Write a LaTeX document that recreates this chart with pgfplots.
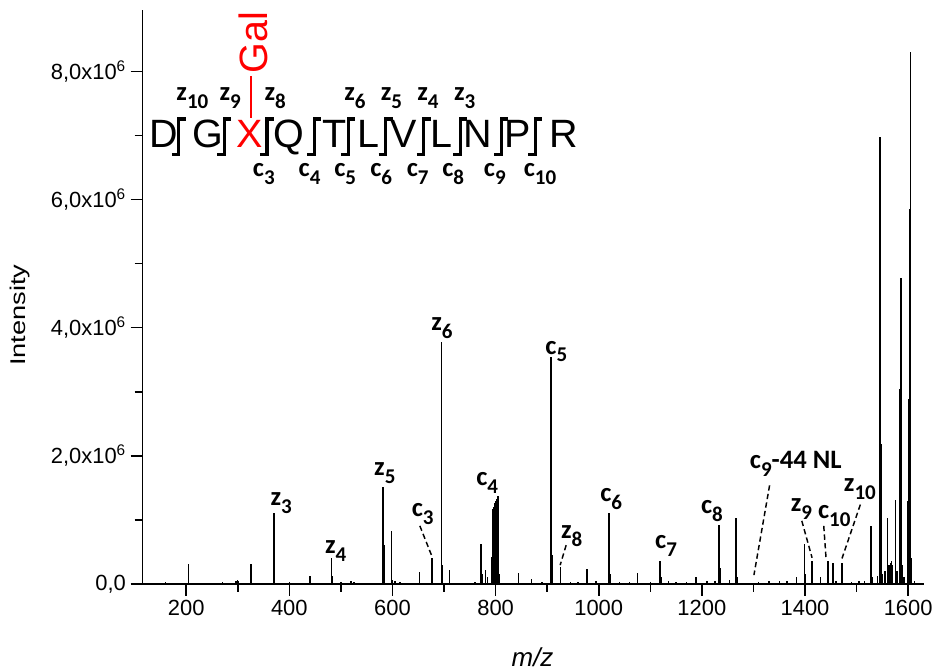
\documentclass[border=0pt]{standalone}
\usepackage{pgfplots}
\pgfplotsset{compat=1.18}
\usepackage{fontspec}
\setmainfont{Liberation Sans}
\newfontfamily\lab{Carlito}
\newcommand{\ion}[2]{#1\raisebox{-6pt}{\fontsize{15.8}{16}\selectfont #2}}
\pgfplotstableread{
mz int
140 0.02
160 0.03
178 0.02
204.5 0.31
230 0.02
255 0.02
270 0.03
297 0.05
299 0.06
301 0.04
325.7 0.31
350 0.02
370 1.10
371.5 0.12
400 0.03
420 0.02
440 0.12
470 0.02
482 0.40
484 0.12
500 0.03
520 0.04
525 0.03
560 0.02
582 1.51
583.5 0.60
597.7 0.83
600 0.06
605 0.04
615 0.03
630 0.02
652 0.19
677 0.40
695.2 3.78
697 0.30
711 0.22
735 0.02
760 0.03
772 0.63
774 0.15
780 0.22
784 0.10
792 0.42
795 1.17
796.5 1.20
798 1.27
799.5 1.27
801 1.30
803 1.33
804.6 1.37
806 0.55
808 0.15
844.7 0.17
870 0.07
890 0.03
907.2 3.54
909 0.45
925.5 0.27
945 0.03
960 0.03
977.6 0.23
995 0.04
1020 1.10
1022 0.15
1040 0.03
1060 0.03
1074.7 0.17
1100 0.03
1119 0.36
1121 0.10
1135 0.04
1150 0.03
1170 0.03
1189 0.10
1210 0.04
1225 0.05
1233 0.92
1235 0.25
1254 0.06
1266 1.03
1268 0.10
1310 0.03
1330 0.04
1350 0.04
1365 0.05
1383 0.10
1398.6 0.63
1400.5 0.15
1413.5 0.35
1430 0.10
1444.5 0.36
1454 0.33
1460 0.05
1471.6 0.33
1490 0.03
1505 0.05
1515 0.05
1528 0.90
1530 0.10
1540 0.12
1544 5.12
1545.5 6.97
1547 2.19
1550 0.15
1555 0.20
1560 1.03
1563 0.30
1566 0.32
1568 0.35
1570 0.30
1575 1.31
1578 0.20
1584 3.05
1586 4.77
1588 0.30
1592 0.10
1598.5 1.30
1600.5 2.89
1602.5 5.85
1604 8.30
1606 0.40
1612 0.05
}\peaks
\begin{document}
\begin{tikzpicture}
\begin{scope}[x=0.75pt,y=-0.75pt,shift={(-107.25pt,439.125pt)}]
\useasboundingbox (0,0) rectangle (937,673);
\end{scope}
\begin{axis}[
  at={(0,0)}, anchor=south west, scale only axis,
  width=587.775pt, height=431.625pt,
  xmin=115.5, xmax=1631, ymin=0, ymax=8.96,
  axis x line=bottom, axis y line=left,
  axis line style={-, line width=1.2pt, black},
  tick align=outside, major tick length=9pt, minor tick length=6pt,
  every tick/.style={line width=1.2pt, black},
  xtick={200,400,600,800,1000,1200,1400,1600},
  xticklabels={200,400,600,800,1000,1200,1400,1600},
  ytick={0,2,4,6,8},
  yticklabels={{0,0},{2,0x10\textsuperscript{6}},{4,0x10\textsuperscript{6}},{6,0x10\textsuperscript{6}},{8,0x10\textsuperscript{6}}},
  minor x tick num=1, minor y tick num=1,
  ticklabel style={font=\fontsize{16.5}{19}\selectfont},
  clip=false,
]
\addplot[ycomb, black, line width=1.1pt, mark=none] table[x=mz, y=int] {\peaks};
\end{axis}
\begin{scope}[x=0.75pt,y=-0.75pt,shift={(-107.25pt,439.125pt)}]
% axis titles
\node[rotate=90, font=\fontsize{16}{19}\selectfont] at (20.5,316) {\scalebox{1.28}[1]{Intensity}};
\node[font=\fontsize{19.5}{22}\selectfont\itshape] at (534,659) {m/z};
% peak labels
\begin{scope}[every node/.style={anchor=base west, inner sep=0pt, font=\fontsize{20}{22}\selectfont\lab\bfseries}]
\node at (271,506.7) {\ion{z}{3}};
\node at (325.7,555) {\ion{z}{4}};
\node at (375,476.7) {\ion{z}{5}};
\node at (412.7,518) {\ion{c}{3}};
\node at (432.3,331) {\ion{z}{6}};
\node at (477.3,486.7) {\ion{c}{4}};
\node at (546.7,355) {\ion{c}{5}};
\node at (562.3,540) {\ion{z}{8}};
\node at (601.7,502.7) {\ion{c}{6}};
\node at (656.7,550) {\ion{c}{7}};
\node at (702.7,515) {\ion{c}{8}};
\node at (751.7,470) {\ion{c}{9}-44 NL};
\node at (792.7,513) {\ion{z}{9}};
\node at (820,520) {\ion{c}{10}};
\node at (846,493) {\ion{z}{10}};
% sequence labels
\node at (176.7,101) {\ion{z}{10}};
\node at (220,101) {\ion{z}{9}};
\node at (265,101) {\ion{z}{8}};
\node at (345,101) {\ion{z}{6}};
\node at (381.7,101) {\ion{z}{5}};
\node at (418.3,101) {\ion{z}{4}};
\node at (455,101) {\ion{z}{3}};
\node at (253.3,176.7) {\ion{c}{3}};
\node at (299.3,176.7) {\ion{c}{4}};
\node at (335,176.7) {\ion{c}{5}};
\node at (371,176.7) {\ion{c}{6}};
\node at (407.7,176.7) {\ion{c}{7}};
\node at (443.3,176.7) {\ion{c}{8}};
\node at (485,176.7) {\ion{c}{9}};
\node at (525,176.7) {\ion{c}{10}};
\end{scope}
% dashed leaders
\begin{scope}[dash pattern=on 4pt off 2.5pt, line width=1.1pt]
\draw (421,527.3) -- (433.3,558.3);
\draw (567.7,546.7) -- (561.7,566.7);
\draw (771.7,486.7) -- (756,576.7);
\draw (804,522.3) -- (814.3,559.3);
\draw (826,527.3) -- (828.3,559.3);
\draw (862.7,506) -- (844.3,560);
\end{scope}
% sequence
\begin{scope}[every node/.style={anchor=base, inner sep=0pt, font=\fontsize{29.7}{32}\selectfont}]
\node at (164,148.3) {D};
\node at (208.3,148.3) {G};
\node[text=red] at (250,148.3) {X};
\node at (290,148.3) {Q};
\node at (335,148.3) {T};
\node at (369.3,148.3) {L};
\node at (405,148.3) {V};
\node at (442.7,148.3) {L};
\node at (479.3,148.3) {N};
\node at (519.3,148.3) {P};
\node at (565,148.3) {R};
\end{scope}
\foreach \xb in {179.3,225,267.7,315,349.3,386.7,425,461.7,502.7,536.7}
  \draw[line width=2.4pt] (\xb-7,155) -- (\xb,155) -- (\xb,119.3) -- (\xb+7,119.3);
\draw[red, line width=1.2pt] (251.7,118) -- (251.7,76.7);
\node[rotate=90, anchor=west, inner sep=0pt, text=red, font=\fontsize{29.7}{32}\selectfont] at (254,74) {Gal};
\end{scope}
\end{tikzpicture}
\end{document}
